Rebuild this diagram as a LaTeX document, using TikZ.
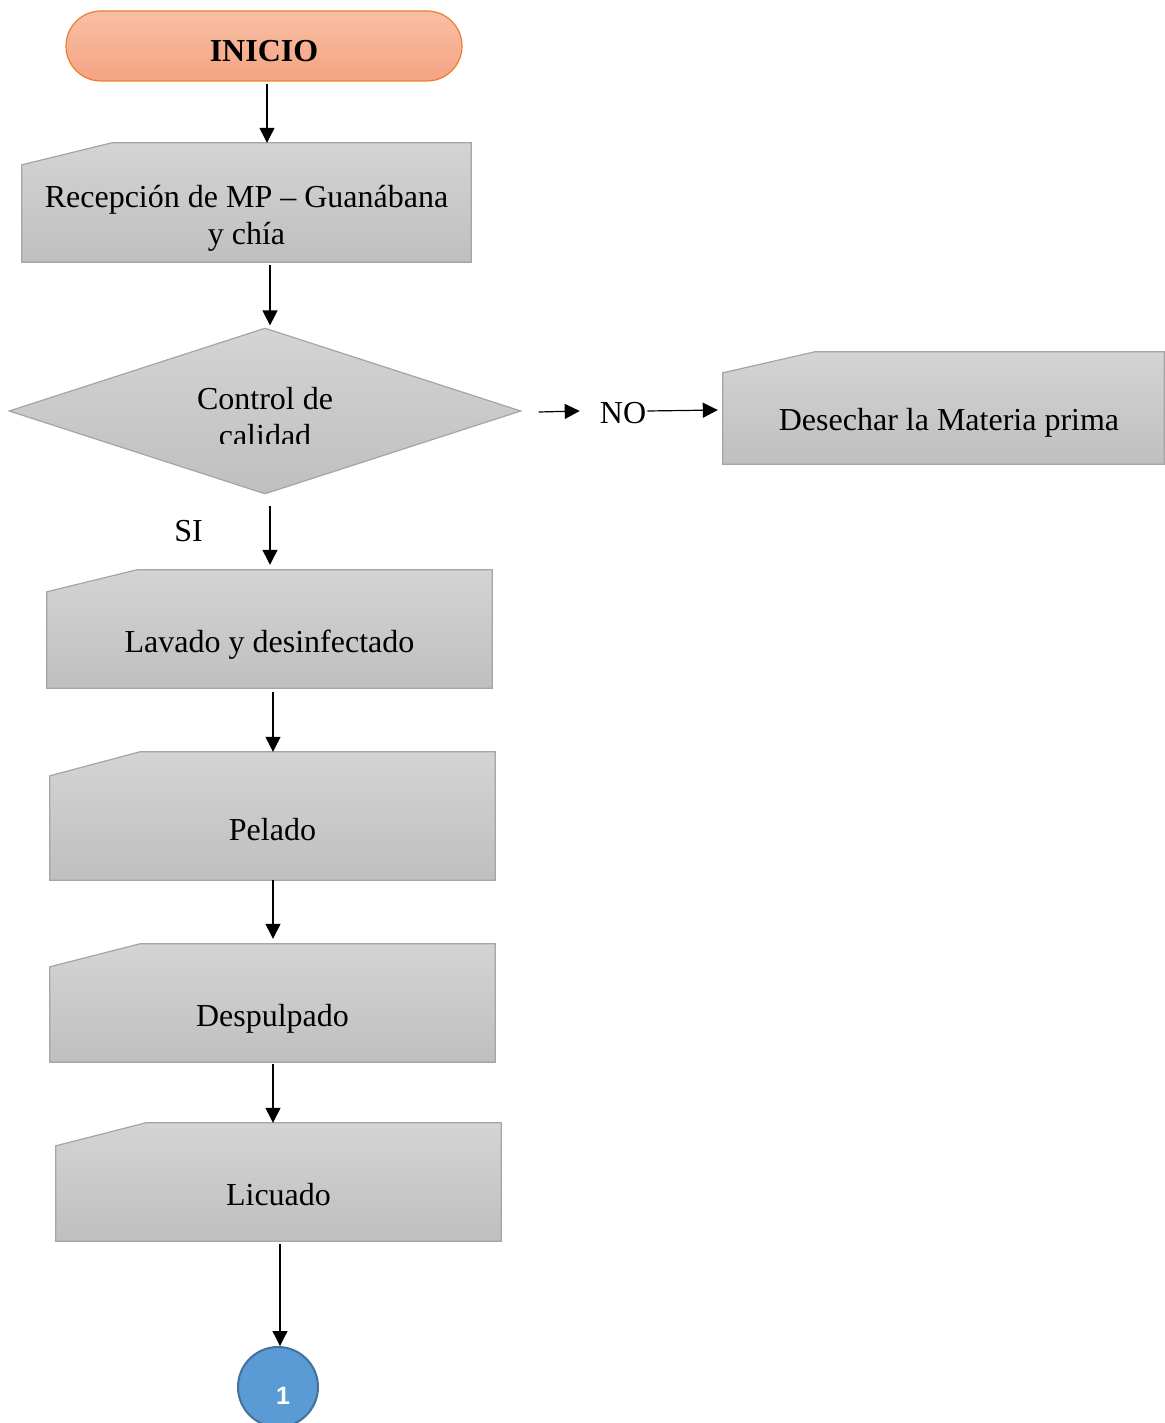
\documentclass[tikz,border=0pt]{standalone}
\usepackage{fontspec}
\setmainfont{Liberation Serif}
\newfontfamily\numfont{Liberation Sans}
\usetikzlibrary{arrows.meta,shapes.geometric,shapes.misc}

\definecolor{boxtop}{HTML}{D4D4D4}
\definecolor{boxbot}{HTML}{BFBFBF}
\definecolor{boxline}{HTML}{A5A5A5}
\definecolor{starttop}{HTML}{F8BFA5}
\definecolor{startbot}{HTML}{F4A481}
\definecolor{startline}{HTML}{ED7D31}
\definecolor{connfill}{HTML}{5B9BD5}
\definecolor{connline}{HTML}{41719C}

\tikzset{
  txt/.style={font=\fontsize{32}{37}\selectfont, inner sep=0pt, anchor=base},
  frame/.style={draw=none, inner sep=0pt},
  boxshade/.style={top color=boxtop, bottom color=boxbot, draw=boxline, line width=1.2pt},
  arr/.style={line width=1.2pt, -{Triangle[length=15pt,width=15pt]}},
}

% manual-input outline over an invisible frame node: #1 node, #2 slant drop, #3 slant run
\newcommand\manualshape[3]{%
  \shade[boxshade] ([yshift=-#2]#1.north west) -- ([xshift=#3]#1.north west)
    -- (#1.north east) -- (#1.south east) -- (#1.south west) -- cycle;}

\begin{document}
\begin{tikzpicture}[x=1pt,y=-1pt]
\useasboundingbox (0,0) rectangle (1164,1423);

% start terminal
\node[rounded rectangle, top color=starttop, bottom color=startbot, draw=startline,
      line width=1.2pt, minimum width=396pt, minimum height=70pt, inner sep=0pt]
      (ini) at (264,46) {};
\node[txt, font=\fontsize{32}{37}\selectfont\bfseries] (initxt) at (264,61.5) {INICIO};

% reception
\node[frame, minimum width=449pt, minimum height=119pt] (rec) at (246.5,202.5) {};
\manualshape{rec}{22pt}{90pt}
\node[txt] (rectxt1) at (246.5,207.5) {Recepción de MP – Guanábana};
\node[txt] (rectxt2) at (246.5,244.5) {y chía};

% quality decision
\node[diamond, top color=boxtop, bottom color=boxbot, draw=boxline, line width=1.2pt,
      minimum width=512pt, minimum height=166pt, inner sep=0pt] (dia) at (265,411) {};
\node[txt] (diatxt1) at (265,409.5) {Control de};
\begin{scope}
  \clip (150,300) rectangle (380,443);
  \node[txt] (diatxt2) at (265,446.5) {calidad};
\end{scope}

% reject branch
\node[txt] (no) at (623,423.5) {NO};
\node[frame, minimum width=441pt, minimum height=112pt] (des) at (943.5,408) {};
\manualshape{des}{21pt}{92pt}
\node[txt] (destxt) at (949,430.5) {Desechar la Materia prima};

% accept branch
\node[txt] (si) at (188.5,541.5) {SI};

\node[frame, minimum width=445pt, minimum height=118pt] (lav) at (269.5,629) {};
\manualshape{lav}{22pt}{90pt}
\node[txt] (lavtxt) at (269.5,652.5) {Lavado y desinfectado};

\node[frame, minimum width=445pt, minimum height=128pt] (pel) at (272.5,816) {};
\manualshape{pel}{24pt}{90pt}
\node[txt] (peltxt) at (272.5,840.5) {Pelado};

\node[frame, minimum width=445pt, minimum height=118pt] (desp) at (272.5,1003) {};
\manualshape{desp}{23pt}{90pt}
\node[txt] (desptxt) at (272.5,1026.5) {Despulpado};

\node[frame, minimum width=445pt, minimum height=118pt] (lic) at (278.5,1182) {};
\manualshape{lic}{23pt}{90pt}
\node[txt] (lictxt) at (278.5,1205.5) {Licuado};

% off-page connector
\node[circle, fill=connfill, draw=connline, line width=2pt, minimum size=80pt, inner sep=0pt]
      (con) at (278,1387) {};
\node[font=\numfont\bfseries\fontsize{25}{29}\selectfont, text=white, inner sep=0pt, anchor=base]
      (contxt) at (283,1404.5) {1};

% connectors
\draw[arr] ([xshift=3pt,yshift=-2pt]ini.south) -- ([xshift=20.5pt]rec.north);
\draw[arr] ([xshift=23.5pt,yshift=-3pt]rec.south) -- ([xshift=5pt,yshift=2pt]dia.north);
\draw[arr] ([xshift=17pt,yshift=-1pt]dia.east) -- ([xshift=-20pt,yshift=12.5pt]no.base west);
\draw[arr] ([xshift=1pt,yshift=12.5pt]no.base east) -- ([xshift=-5pt,yshift=-2pt]des.west);
\draw[arr] ([xshift=5pt,yshift=-11pt]dia.south) -- ([xshift=0.5pt,yshift=5pt]lav.north);
\draw[arr] ([xshift=3.5pt,yshift=-4pt]lav.south) -- ([xshift=0.5pt]pel.north);
\draw[arr] ([xshift=0.5pt]pel.south) -- ([xshift=0.5pt,yshift=5pt]desp.north);
\draw[arr] ([xshift=0.5pt,yshift=-2pt]desp.south) -- ([xshift=-5.5pt]lic.north);
\draw[arr] ([xshift=1.5pt,yshift=-3pt]lic.south) -- ([xshift=2pt]con.north);
\end{tikzpicture}
\end{document}
